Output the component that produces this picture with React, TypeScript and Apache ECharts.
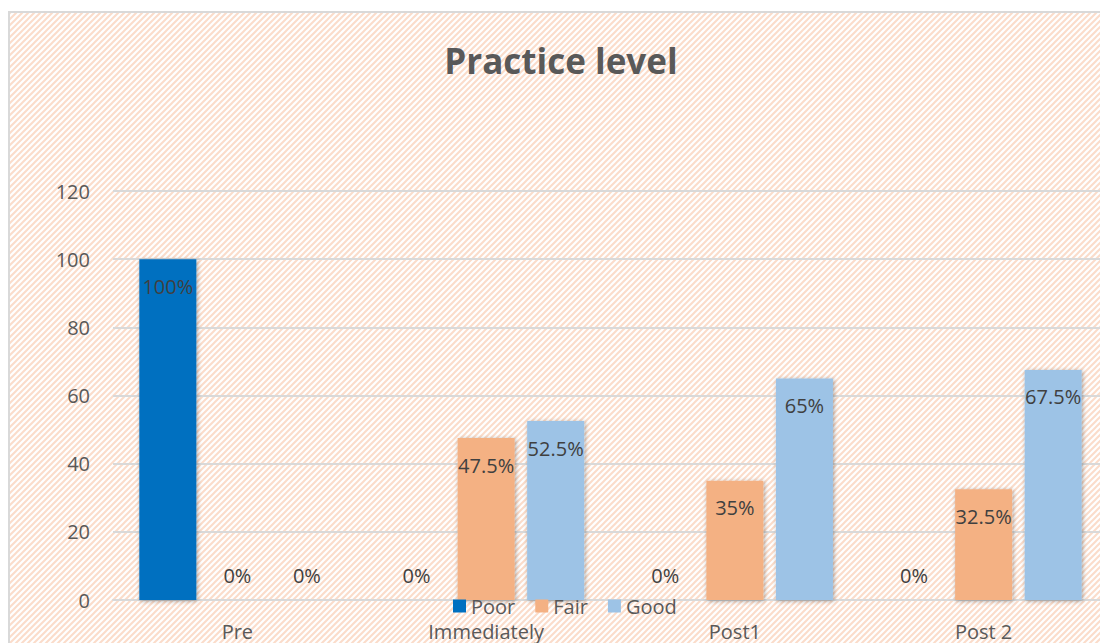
import React, { useEffect, useRef } from "react";
import * as echarts from "echarts";

const categories = ["Pre", "Immediately", "Post1", "Post 2"];
const poor = [100, 0, 0, 0];
const fair = [0, 47.5, 35, 32.5];
const good = [0, 52.5, 65, 67.5];
const yTicks = { min: 0, max: 120, interval: 20 };

const FONT = "'Open Sans', sans-serif";

const hatch =
  "url(\"data:image/svg+xml;utf8," +
  encodeURIComponent(
    "<svg xmlns='http://www.w3.org/2000/svg' width='6' height='6'><rect width='6' height='6' fill='#ffffff'/><path d='M-1,1 l2,-2 M0,6 l6,-6 M5,7 l2,-2' stroke='#fbdcca' stroke-width='2'/></svg>"
  ) +
  "\")";

function buildData(values: number[]) {
  return values.map((v) =>
    v === 0
      ? { value: v, label: { position: "top", distance: 14 } }
      : { value: v }
  );
}

export default function App() {
  const ref = useRef<HTMLDivElement>(null);
  useEffect(() => {
    if (!ref.current) return;
    const chart = echarts.init(ref.current, undefined, { renderer: "svg" });
    const mk = (name: string, values: number[], color: string) => ({
      name,
      type: "bar",
      barWidth: 57,
      barGap: "22%",
      data: buildData(values),
      itemStyle: {
        color,
        shadowBlur: 4,
        shadowColor: "rgba(0,0,0,0.35)",
        shadowOffsetX: 1,
        shadowOffsetY: 1,
      },
      label: {
        show: true,
        position: "insideTop",
        distance: 16,
        formatter: (p: any) => `${p.value}%`,
        color: "#404040",
        fontSize: 20,
        lineHeight: 22,
        fontFamily: FONT,
      },
    });
    chart.setOption({
      animation: false,
      backgroundColor: "transparent",
      title: {
        text: "Practice level",
        left: 548,
        top: 30,
        textAlign: "center",
        textStyle: {
          fontSize: 35,
          fontWeight: "bold",
          color: "#595959",
          fontFamily: FONT,
        },
      },
      legend: {
        data: ["Poor", "Fair", "Good"],
        left: 445,
        top: 588,
        padding: 0,
        itemWidth: 13,
        itemHeight: 13,
        itemGap: 20,
        icon: "rect",
        textStyle: {
          fontSize: 20,
          lineHeight: 16,
          color: "#595959",
          fontFamily: FONT,
        },
      },
      grid: { left: 105, top: 183, width: 1000, height: 409 },
      xAxis: {
        type: "category",
        data: categories,
        axisLine: { lineStyle: { color: "#d9d9d9", width: 2 } },
        axisTick: { show: false },
        axisLabel: {
          fontSize: 20,
          lineHeight: 18,
          color: "#595959",
          margin: 22,
          fontFamily: FONT,
        },
      },
      yAxis: {
        type: "value",
        min: yTicks.min,
        max: yTicks.max,
        interval: yTicks.interval,
        axisLine: { show: false },
        axisTick: { show: false },
        splitLine: { lineStyle: { color: "#d9d9d9", width: 2 } },
        axisLabel: {
          fontSize: 20,
          color: "#595959",
          margin: 23,
          fontFamily: FONT,
        },
      },
      series: [
        mk("Poor", poor, "#0070C0"),
        mk("Fair", fair, "#F4B183"),
        mk("Good", good, "#9DC3E6"),
      ],
    });
    return () => chart.dispose();
  }, []);

  return (
    <div
      style={{
        position: "relative",
        width: 1100,
        height: 635,
        overflow: "hidden",
      }}
    >
      <div
        style={{
          position: "absolute",
          left: 0,
          top: 3,
          width: 1110,
          height: 650,
          border: "2px solid #d9d9d9",
          backgroundImage: hatch,
          backgroundRepeat: "repeat",
        }}
      />
      <div
        ref={ref}
        style={{ position: "absolute", left: 0, top: 0, width: 1100, height: 635 }}
      />
    </div>
  );
}
